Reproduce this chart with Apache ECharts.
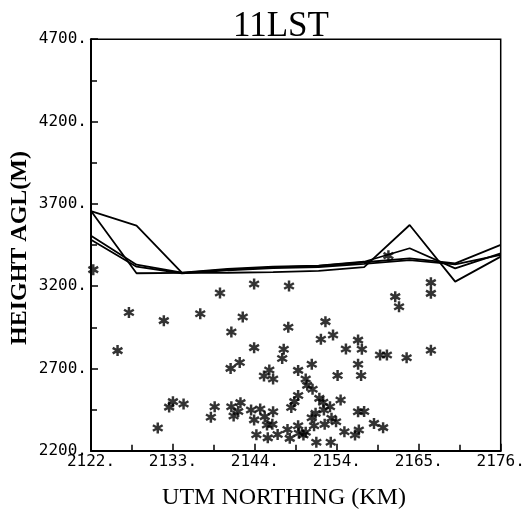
<!DOCTYPE html>
<html>
<head>
<meta charset="utf-8">
<script src="https://cdn.jsdelivr.net/npm/echarts@6/dist/echarts.min.js"></script>
<style>html,body{margin:0;padding:0;background:#fff;}#c{width:530px;height:519px;}</style>
</head>
<body>
<div id="c"></div>
<script>
// ---- data ----
const titleText = '11LST';
const xName = 'UTM NORTHING (KM)';
const yName = 'HEIGHT AGL(M)';
const xMin = 2122, xMax = 2176, xStep = 10.8;
const yMin = 2200, yMax = 4700, yStep = 500;

const lineX = [2122, 2128, 2134, 2140, 2146, 2152, 2158, 2164, 2170, 2176];
const line1 = [3656, 3567, 3280, 3300, 3314, 3322, 3345, 3369, 3338, 3450];
const line2 = [3656, 3278, 3280, 3281, 3285, 3292, 3315, 3571, 3227, 3379];
const line3 = [3506, 3330, 3282, 3304, 3318, 3324, 3348, 3430, 3308, 3399];
const line4 = [3482, 3318, 3278, 3296, 3310, 3316, 3335, 3358, 3332, 3390];

const starX = [2122.3,2127.0,2125.5,2131.6,2136.4,2139.0,2143.5,2148.1,2140.5,2142.0,
  2148.0,2143.5,2147.4,2147.2,2152.9,2152.3,2153.9,2155.6,2157.2,2157.7,
  2160.1,2161.0,2163.6,2166.8,2166.8,2166.8,2162.1,2162.6,2161.2,
  2140.4,2141.6,2145.5,2144.8,2146.0,2149.3,2151.1,2157.2,2157.6,2154.5,2150.3,2150.5,2151.2,
  2130.8,2132.3,2132.8,2134.2,2137.8,2138.3,2140.5,2141.7,2140.8,2141.4,
  2143.1,2144.3,2143.5,2144.9,2146.0,2145.2,2145.9,2143.8,2145.3,2146.6,
  2147.9,2148.2,2148.4,2148.8,2149.3,2152.1,2152.6,2153.5,2154.9,2157.2,
  2158.0,2151.6,2151.1,2152.7,2153.7,2154.3,2152.8,2151.4,2149.3,2149.4,
  2150.0,2150.3,2151.7,2153.6,2155.4,2156.8,2157.3,2159.3,2160.5];
const starY = [3300,3040,2808,2990,3032,3158,3213,3201,2921,3012,
  2950,2826,2816,2760,2984,2877,2903,2818,2872,2816,
  2781,2781,2765,2810,3221,3156,3136,3075,3385,
  2700,2736,2690,2654,2636,2688,2725,2725,2657,2657,2636,2597,2573,
  2338,2465,2498,2484,2403,2467,2467,2492,2411,2438,
  2447,2453,2387,2407,2437,2356,2360,2297,2278,2298,
  2329,2275,2462,2498,2535,2518,2494,2467,2508,2437,
  2438,2427,2400,2447,2397,2376,2360,2352,2352,2306,
  2295,2312,2251,2251,2315,2295,2326,2366,2340];

// ---- chart ----
const asterisk = 'path://M-2.2,-10L2.2,-10L2.2,10L-2.2,10Z' +
  'M7.56,-6.905L9.76,-3.095L-7.56,6.905L-9.76,3.095Z' +
  'M9.76,3.095L7.56,6.905L-9.76,-3.095L-7.56,-6.905Z';

const toPt = (x, y) => [x - xMin, y - yMin];
const lines = [line1, line2, line3, line4].map(arr => ({
  type: 'line',
  data: lineX.map((x, i) => toPt(x, arr[i])),
  showSymbol: false,
  symbol: 'none',
  lineStyle: { color: '#000', width: 1.8 },
  silent: true,
  animation: false
}));

const serif = '"Liberation Serif", "DejaVu Serif", serif';
const chart = echarts.init(document.getElementById('c'));
chart.setOption({
  backgroundColor: '#fff',
  animation: false,
  grid: { left: 91, right: 29.3, top: 39.2, bottom: 68.3, show: true,
          borderColor: '#000', borderWidth: 1.5, backgroundColor: 'transparent' },
  xAxis: {
    type: 'value', min: 0, max: xMax - xMin, interval: xStep,
    axisLine: { show: true, lineStyle: { color: '#000', width: 2 } },
    axisTick: { show: true, inside: true, length: 7, lineStyle: { color: '#000', width: 1.5 } },
    minorTick: { show: true, splitNumber: 2, length: 6, lineStyle: { color: '#000', width: 1.5 } },
    splitLine: { show: false },
    axisLabel: { margin: 3, color: '#000', fontFamily: '"DejaVu Sans Mono", monospace', fontSize: 16,
      formatter: v => Math.round(v + xMin) + '.' }
  },
  yAxis: {
    type: 'value', min: 0, max: yMax - yMin, interval: yStep,
    axisLine: { show: true, lineStyle: { color: '#000', width: 2 } },
    axisTick: { show: true, inside: true, length: 7, lineStyle: { color: '#000', width: 1.5 } },
    minorTick: { show: true, splitNumber: 2, length: 6, lineStyle: { color: '#000', width: 1.5 } },
    splitLine: { show: false },
    axisLabel: { margin: 4, color: '#000', fontFamily: '"DejaVu Sans Mono", monospace', fontSize: 16,
      formatter: v => Math.round(v + yMin) + '.' }
  },
  graphic: [
    { type: 'text', x: 281, y: 44, z: 100,
      style: { text: titleText, font: '35px ' + serif, fill: '#000',
               textAlign: 'center', textVerticalAlign: 'bottom', align: 'center', verticalAlign: 'bottom' } },
    { type: 'text', x: 284, y: 498,
      style: { text: xName, font: '24px ' + serif, fill: '#000',
               textAlign: 'center', textVerticalAlign: 'middle', align: 'center', verticalAlign: 'middle' } },
    { type: 'text', x: 20, y: 248, rotation: Math.PI / 2,
      style: { text: yName, font: 'bold 24px ' + serif, fill: '#000',
               textAlign: 'center', textVerticalAlign: 'middle', align: 'center', verticalAlign: 'middle' } }
  ],
  series: lines.concat([{
    type: 'scatter',
    data: starX.map((x, i) => toPt(x, starY[i])),
    symbol: asterisk,
    symbolSize: 11,
    itemStyle: { color: '#000' },
    silent: true,
    animation: false
  }])
});
</script>
</body>
</html>
